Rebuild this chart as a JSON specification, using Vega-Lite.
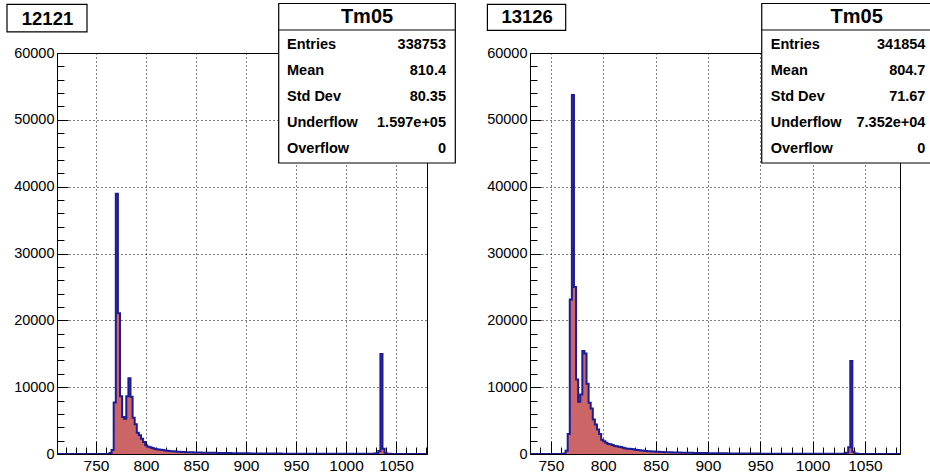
{
  "$schema": "https://vega.github.io/schema/vega-lite/v6.json",
  "background": "white",
  "padding": {"left": 5, "top": 2, "right": 0, "bottom": 0},
  "autosize": {"type": "pad"},
  "spacing": 29,
  "config": {
    "view": {"stroke": "black", "strokeWidth": 1},
    "font": "Liberation Sans",
    "axis": {
      "title": null, "domainColor": "black", "domainWidth": 1, "tickColor": "black", "tickWidth": 1,
      "labelColor": "black", "labelFont": "Liberation Sans", "labelOverlap": false, "labelFlush": false,
      "gridColor": "black", "gridDash": [1, 3], "gridWidth": 1, "format": "d", "zindex": 1
    }
  },
  "datasets": {
    "left": [
      {"x":711,"n":0},{"x":713.1,"n":0},{"x":715.2,"n":0},{"x":717.3,"n":0},{"x":719.4,"n":0},{"x":721.5,"n":0},{"x":723.6,"n":0},{"x":725.7,"n":0},{"x":727.8,"n":0},{"x":729.9,"n":0},
      {"x":732,"n":0},{"x":734.1,"n":0},{"x":736.2,"n":0},{"x":738.3,"n":0},{"x":740.4,"n":0},{"x":742.5,"n":0},{"x":744.6,"n":0},{"x":746.7,"n":0},{"x":748.8,"n":0},{"x":750.9,"n":0},
      {"x":753,"n":0},{"x":755.1,"n":0},{"x":757.2,"n":0},{"x":759.3,"n":0},{"x":761.4,"n":0},{"x":763.5,"n":150},{"x":765.6,"n":600},{"x":767.7,"n":7700},{"x":769.8,"n":38950},{"x":771.9,"n":21050},
      {"x":774,"n":8630},{"x":776.1,"n":5540},{"x":778.2,"n":5290},{"x":780.3,"n":8630},{"x":782.4,"n":11330},{"x":784.5,"n":8580},{"x":786.6,"n":5440},{"x":788.7,"n":4440},{"x":790.8,"n":3190},{"x":792.9,"n":2790},
      {"x":795,"n":2300},{"x":797.1,"n":1800},{"x":799.2,"n":1300},{"x":801.3,"n":1100},{"x":803.4,"n":1000},{"x":805.5,"n":900},{"x":807.6,"n":800},{"x":809.7,"n":720},{"x":811.8,"n":680},{"x":813.9,"n":620},
      {"x":816,"n":580},{"x":818.1,"n":520},{"x":820.2,"n":480},{"x":822.3,"n":450},{"x":824.4,"n":420},{"x":826.5,"n":400},{"x":828.6,"n":370},{"x":830.7,"n":340},{"x":832.8,"n":320},{"x":834.9,"n":300},
      {"x":837,"n":290},{"x":839.1,"n":280},{"x":841.2,"n":270},{"x":843.3,"n":260},{"x":845.4,"n":250},{"x":847.5,"n":240},{"x":849.6,"n":230},{"x":851.7,"n":220},{"x":853.8,"n":210},{"x":855.9,"n":200},
      {"x":858,"n":195},{"x":860.1,"n":190},{"x":862.2,"n":185},{"x":864.3,"n":180},{"x":866.4,"n":175},{"x":868.5,"n":170},{"x":870.6,"n":165},{"x":872.7,"n":160},{"x":874.8,"n":155},{"x":876.9,"n":150},
      {"x":879,"n":145},{"x":881.1,"n":140},{"x":883.2,"n":135},{"x":885.3,"n":130},{"x":887.4,"n":125},{"x":889.5,"n":120},{"x":891.6,"n":115},{"x":893.7,"n":110},{"x":895.8,"n":105},{"x":897.9,"n":100},
      {"x":900,"n":98},{"x":902.1,"n":95},{"x":904.2,"n":92},{"x":906.3,"n":90},{"x":908.4,"n":88},{"x":910.5,"n":85},{"x":912.6,"n":82},{"x":914.7,"n":80},{"x":916.8,"n":78},{"x":918.9,"n":75},
      {"x":921,"n":72},{"x":923.1,"n":70},{"x":925.2,"n":68},{"x":927.3,"n":65},{"x":929.4,"n":62},{"x":931.5,"n":60},{"x":933.6,"n":58},{"x":935.7,"n":56},{"x":937.8,"n":54},{"x":939.9,"n":52},
      {"x":942,"n":50},{"x":944.1,"n":48},{"x":946.2,"n":47},{"x":948.3,"n":46},{"x":950.4,"n":45},{"x":952.5,"n":44},{"x":954.6,"n":43},{"x":956.7,"n":42},{"x":958.8,"n":41},{"x":960.9,"n":40},
      {"x":963,"n":40},{"x":965.1,"n":39},{"x":967.2,"n":38},{"x":969.3,"n":38},{"x":971.4,"n":37},{"x":973.5,"n":37},{"x":975.6,"n":36},{"x":977.7,"n":36},{"x":979.8,"n":35},{"x":981.9,"n":35},
      {"x":984,"n":34},{"x":986.1,"n":34},{"x":988.2,"n":33},{"x":990.3,"n":33},{"x":992.4,"n":32},{"x":994.5,"n":32},{"x":996.6,"n":31},{"x":998.7,"n":31},{"x":1000.8,"n":30},{"x":1002.9,"n":30},
      {"x":1005,"n":30},{"x":1007.1,"n":30},{"x":1009.2,"n":30},{"x":1011.3,"n":30},{"x":1013.4,"n":30},{"x":1015.5,"n":30},{"x":1017.6,"n":30},{"x":1019.7,"n":30},{"x":1021.8,"n":35},{"x":1023.9,"n":40},
      {"x":1026,"n":45},{"x":1028.1,"n":60},{"x":1030.2,"n":120},{"x":1032.3,"n":450},{"x":1034.4,"n":14950},{"x":1036.5,"n":800},{"x":1038.6,"n":120},{"x":1040.7,"n":40},{"x":1042.8,"n":20},{"x":1044.9,"n":10},
      {"x":1047,"n":0},{"x":1049.1,"n":0},{"x":1051.2,"n":0},{"x":1053.3,"n":0},{"x":1055.4,"n":0},{"x":1057.5,"n":0},{"x":1059.6,"n":0},{"x":1061.7,"n":0},{"x":1063.8,"n":0},{"x":1065.9,"n":0},
      {"x":1068,"n":0},{"x":1070.1,"n":0},{"x":1072.2,"n":0},{"x":1074.3,"n":0},{"x":1076.4,"n":0},{"x":1078.5,"n":0},{"x":1080.6,"n":0},{"x":1082.7,"n":0}
    ],
    "right": [
      {"x":730,"n":0},{"x":732,"n":0},{"x":734,"n":0},{"x":736,"n":0},{"x":738,"n":0},{"x":740,"n":0},{"x":742,"n":0},{"x":744,"n":0},{"x":746,"n":0},{"x":748,"n":0},
      {"x":750,"n":0},{"x":752,"n":0},{"x":754,"n":0},{"x":756,"n":0},{"x":758,"n":0},{"x":760,"n":0},{"x":762,"n":80},{"x":764,"n":500},{"x":766,"n":3000},{"x":768,"n":23100},
      {"x":770,"n":53700},{"x":772,"n":25000},{"x":774,"n":11150},{"x":776,"n":7800},{"x":778,"n":8900},{"x":780,"n":15400},{"x":782,"n":15050},{"x":784,"n":10500},{"x":786,"n":7650},{"x":788,"n":6800},
      {"x":790,"n":5150},{"x":792,"n":4400},{"x":794,"n":3650},{"x":796,"n":3000},{"x":798,"n":2150},{"x":800,"n":1900},{"x":802,"n":1700},{"x":804,"n":1500},{"x":806,"n":1450},{"x":808,"n":1350},
      {"x":810,"n":1200},{"x":812,"n":1150},{"x":814,"n":1100},{"x":816,"n":1050},{"x":818,"n":950},{"x":820,"n":850},{"x":822,"n":800},{"x":824,"n":780},{"x":826,"n":750},{"x":828,"n":700},
      {"x":830,"n":620},{"x":832,"n":580},{"x":834,"n":550},{"x":836,"n":530},{"x":838,"n":500},{"x":840,"n":450},{"x":842,"n":420},{"x":844,"n":400},{"x":846,"n":380},{"x":848,"n":360},
      {"x":850,"n":340},{"x":852,"n":320},{"x":854,"n":300},{"x":856,"n":290},{"x":858,"n":280},{"x":860,"n":270},{"x":862,"n":260},{"x":864,"n":250},{"x":866,"n":240},{"x":868,"n":230},
      {"x":870,"n":220},{"x":872,"n":210},{"x":874,"n":205},{"x":876,"n":200},{"x":878,"n":195},{"x":880,"n":190},{"x":882,"n":180},{"x":884,"n":170},{"x":886,"n":165},{"x":888,"n":160},
      {"x":890,"n":155},{"x":892,"n":150},{"x":894,"n":145},{"x":896,"n":140},{"x":898,"n":135},{"x":900,"n":130},{"x":902,"n":125},{"x":904,"n":120},{"x":906,"n":115},{"x":908,"n":110},
      {"x":910,"n":105},{"x":912,"n":100},{"x":914,"n":98},{"x":916,"n":95},{"x":918,"n":92},{"x":920,"n":90},{"x":922,"n":88},{"x":924,"n":85},{"x":926,"n":82},{"x":928,"n":80},
      {"x":930,"n":78},{"x":932,"n":75},{"x":934,"n":72},{"x":936,"n":70},{"x":938,"n":68},{"x":940,"n":66},{"x":942,"n":64},{"x":944,"n":62},{"x":946,"n":60},{"x":948,"n":58},
      {"x":950,"n":56},{"x":952,"n":54},{"x":954,"n":52},{"x":956,"n":50},{"x":958,"n":49},{"x":960,"n":48},{"x":962,"n":47},{"x":964,"n":46},{"x":966,"n":45},{"x":968,"n":44},
      {"x":970,"n":43},{"x":972,"n":42},{"x":974,"n":41},{"x":976,"n":40},{"x":978,"n":40},{"x":980,"n":39},{"x":982,"n":38},{"x":984,"n":38},{"x":986,"n":37},{"x":988,"n":37},
      {"x":990,"n":36},{"x":992,"n":36},{"x":994,"n":35},{"x":996,"n":35},{"x":998,"n":34},{"x":1000,"n":34},{"x":1002,"n":33},{"x":1004,"n":33},{"x":1006,"n":32},{"x":1008,"n":32},
      {"x":1010,"n":31},{"x":1012,"n":31},{"x":1014,"n":30},{"x":1016,"n":30},{"x":1018,"n":30},{"x":1020,"n":32},{"x":1022,"n":35},{"x":1024,"n":40},{"x":1026,"n":45},{"x":1028,"n":55},
      {"x":1030,"n":80},{"x":1032,"n":200},{"x":1034,"n":1000},{"x":1036,"n":13900},{"x":1038,"n":350},{"x":1040,"n":80},{"x":1042,"n":30},{"x":1044,"n":10},{"x":1046,"n":0},{"x":1048,"n":0},
      {"x":1050,"n":0},{"x":1052,"n":0},{"x":1054,"n":0},{"x":1056,"n":0},{"x":1058,"n":0},{"x":1060,"n":0},{"x":1062,"n":0},{"x":1064,"n":0},{"x":1066,"n":0},{"x":1068,"n":0},
      {"x":1070,"n":0},{"x":1072,"n":0},{"x":1074,"n":0},{"x":1076,"n":0},{"x":1078,"n":0},{"x":1080,"n":0},{"x":1082,"n":0},{"x":1084,"n":0}
    ]
  },
  "hconcat": [
    {
      "width": 370, "height": 401,
      "resolve": {"axis": {"x": "independent", "y": "independent"}},
      "layer": [
        {
          "data": {"name": "left"},
          "mark": {"type": "area", "interpolate": "step-after", "color": "#cc6666", "clip": true},
          "encoding": {
            "x": {"field": "x", "type": "quantitative",
              "scale": {"domain": [711, 1081], "nice": false, "zero": false},
              "axis": {"orient": "bottom", "values": [750, 800, 850, 900, 950, 1000, 1050], "tickSize": -13, "labelPadding": 17, "labelFontSize": 15.5, "grid": true}},
            "y": {"field": "n", "type": "quantitative",
              "scale": {"domain": [0, 60000], "nice": false},
              "axis": {"orient": "left", "values": [0, 10000, 20000, 30000, 40000, 50000, 60000], "tickSize": -11, "labelPadding": 14, "labelFontSize": 14.5, "grid": true}}
          }
        },
        {
          "data": {"name": "left"},
          "mark": {"type": "line", "interpolate": "step-after", "color": "#1c1c96", "strokeWidth": 2, "clip": true},
          "encoding": {
            "x": {"field": "x", "type": "quantitative",
              "axis": {"orient": "bottom", "values": [720,730,740,760,770,780,790,810,820,830,840,860,870,880,890,910,920,930,940,960,970,980,990,1010,1020,1030,1040,1060,1070,1080], "tickSize": -7, "labels": false, "domain": false, "grid": false}},
            "y": {"field": "n", "type": "quantitative",
              "axis": {"orient": "left", "values": [2000,4000,6000,8000,12000,14000,16000,18000,22000,24000,26000,28000,32000,34000,36000,38000,42000,44000,46000,48000,52000,54000,56000,58000], "tickSize": -7, "labels": false, "domain": false, "grid": false}}
          }
        },
        {
          "data": {"values": [{}]},
          "layer": [
            {"mark": {"type": "rect", "fill": "white", "stroke": "black", "strokeWidth": 1.2},
             "encoding": {"x": {"datum": 661, "axis": null}, "x2": {"datum": 741}, "y": {"datum": 67290, "axis": null}, "y2": {"datum": 63150}}},
            {"mark": {"type": "text", "font": "Liberation Sans", "fontWeight": "bold", "fontSize": 18.5, "align": "center", "baseline": "middle", "color": "black"},
             "encoding": {"x": {"datum": 701.5, "axis": null}, "y": {"datum": 65150, "axis": null}, "text": {"value": "12121"}}},
            {"mark": {"type": "rect", "fill": "white", "stroke": "black", "strokeWidth": 1.2},
             "encoding": {"x": {"datum": 932.7, "axis": null}, "x2": {"datum": 1109.3}, "y": {"datum": 67410, "axis": null}, "y2": {"datum": 43540}}},
            {"mark": {"type": "rule", "color": "black", "strokeWidth": 1.2},
             "encoding": {"x": {"datum": 932.7, "axis": null}, "x2": {"datum": 1109.3}, "y": {"datum": 63440, "axis": null}}},
            {"mark": {"type": "text", "font": "Liberation Sans", "fontWeight": "bold", "fontSize": 20, "align": "center", "baseline": "middle", "color": "black"},
             "encoding": {"x": {"datum": 1021, "axis": null}, "y": {"datum": 65390, "axis": null}, "text": {"value": "Tm05"}}},
            {"mark": {"type": "text", "font": "Liberation Sans", "fontWeight": "bold", "fontSize": 14.5, "align": "left", "baseline": "middle", "lineHeight": 26.1, "color": "black"},
             "encoding": {"x": {"datum": 941, "axis": null}, "y": {"datum": 61199, "axis": null}, "text": {"value": ["Entries", "Mean", "Std Dev", "Underflow", "Overflow"]}}},
            {"mark": {"type": "text", "font": "Liberation Sans", "fontWeight": "bold", "fontSize": 14.5, "align": "right", "baseline": "middle", "lineHeight": 26.1, "color": "black"},
             "encoding": {"x": {"datum": 1100, "axis": null}, "y": {"datum": 61199, "axis": null}, "text": {"value": ["338753", "810.4", "80.35", "1.597e+05", "0"]}}}
          ]
        }
      ]
    },
    {
      "width": 370, "height": 401,
      "resolve": {"axis": {"x": "independent", "y": "independent"}},
      "layer": [
        {
          "data": {"name": "right"},
          "mark": {"type": "area", "interpolate": "step-after", "color": "#cc6666", "clip": true},
          "encoding": {
            "x": {"field": "x", "type": "quantitative",
              "scale": {"domain": [730, 1083.5], "nice": false, "zero": false},
              "axis": {"orient": "bottom", "values": [750, 800, 850, 900, 950, 1000, 1050], "tickSize": -13, "labelPadding": 17, "labelFontSize": 15.5, "grid": true}},
            "y": {"field": "n", "type": "quantitative",
              "scale": {"domain": [0, 60000], "nice": false},
              "axis": {"orient": "left", "values": [0, 10000, 20000, 30000, 40000, 50000, 60000], "tickSize": -11, "labelPadding": 14, "labelFontSize": 14.5, "grid": true}}
          }
        },
        {
          "data": {"name": "right"},
          "mark": {"type": "line", "interpolate": "step-after", "color": "#1c1c96", "strokeWidth": 2, "clip": true},
          "encoding": {
            "x": {"field": "x", "type": "quantitative",
              "axis": {"orient": "bottom", "values": [730,740,760,770,780,790,810,820,830,840,860,870,880,890,910,920,930,940,960,970,980,990,1010,1020,1030,1040,1060,1070,1080], "tickSize": -7, "labels": false, "domain": false, "grid": false}},
            "y": {"field": "n", "type": "quantitative",
              "axis": {"orient": "left", "values": [2000,4000,6000,8000,12000,14000,16000,18000,22000,24000,26000,28000,32000,34000,36000,38000,42000,44000,46000,48000,52000,54000,56000,58000], "tickSize": -7, "labels": false, "domain": false, "grid": false}}
          }
        },
        {
          "data": {"values": [{}]},
          "layer": [
            {"mark": {"type": "rect", "fill": "white", "stroke": "black", "strokeWidth": 1.2},
             "encoding": {"x": {"datum": 689.3, "axis": null}, "x2": {"datum": 764.1}, "y": {"datum": 67290, "axis": null}, "y2": {"datum": 63400}}},
            {"mark": {"type": "text", "font": "Liberation Sans", "fontWeight": "bold", "fontSize": 18.5, "align": "center", "baseline": "middle", "color": "black"},
             "encoding": {"x": {"datum": 727.3, "axis": null}, "y": {"datum": 65390, "axis": null}, "text": {"value": "13126"}}},
            {"mark": {"type": "rect", "fill": "white", "stroke": "black", "strokeWidth": 1.2},
             "encoding": {"x": {"datum": 951.4, "axis": null}, "x2": {"datum": 1117.5}, "y": {"datum": 67410, "axis": null}, "y2": {"datum": 43540}}},
            {"mark": {"type": "rule", "color": "black", "strokeWidth": 1.2},
             "encoding": {"x": {"datum": 951.4, "axis": null}, "x2": {"datum": 1117.5}, "y": {"datum": 63440, "axis": null}}},
            {"mark": {"type": "text", "font": "Liberation Sans", "fontWeight": "bold", "fontSize": 20, "align": "center", "baseline": "middle", "color": "black"},
             "encoding": {"x": {"datum": 1042.1, "axis": null}, "y": {"datum": 65390, "axis": null}, "text": {"value": "Tm05"}}},
            {"mark": {"type": "text", "font": "Liberation Sans", "fontWeight": "bold", "fontSize": 14.5, "align": "left", "baseline": "middle", "lineHeight": 26.1, "color": "black"},
             "encoding": {"x": {"datum": 960, "axis": null}, "y": {"datum": 61199, "axis": null}, "text": {"value": ["Entries", "Mean", "Std Dev", "Underflow", "Overflow"]}}},
            {"mark": {"type": "text", "font": "Liberation Sans", "fontWeight": "bold", "fontSize": 14.5, "align": "right", "baseline": "middle", "lineHeight": 26.1, "color": "black"},
             "encoding": {"x": {"datum": 1107.8, "axis": null}, "y": {"datum": 61199, "axis": null}, "text": {"value": ["341854", "804.7", "71.67", "7.352e+04", "0"]}}}
          ]
        }
      ]
    }
  ]
}
